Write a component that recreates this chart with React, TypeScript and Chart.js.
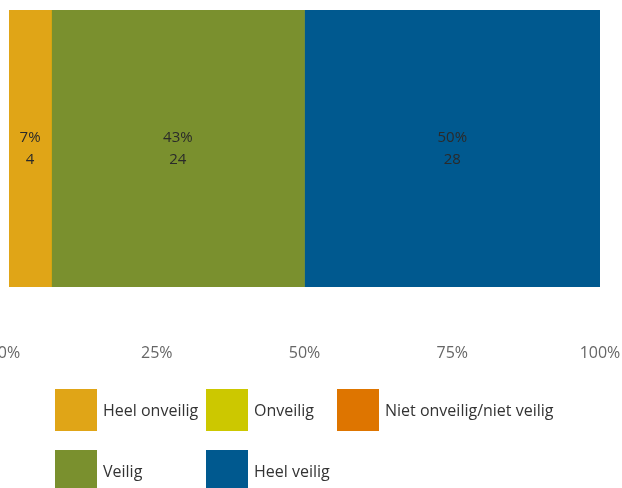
import React, { useEffect, useRef } from "react";
import { Chart, registerables } from "chart.js";

Chart.register(...registerables);

const categories = [""];
const seriesLabels = [
  "Heel onveilig",
  "Onveilig",
  "Niet onveilig/niet veilig",
  "Veilig",
  "Heel veilig",
];
const counts = [4, 0, 0, 24, 28];
const percentLabels = [7, 0, 0, 43, 50];
const seriesColors = ["#E0A517", "#CCC800", "#DE7500", "#7A902E", "#00598F"];
const xTickValues = [0, 25, 50, 75, 100];

const FONT = "'Open Sans', Lato, sans-serif";

const total = counts.reduce((a, b) => a + b, 0);
const percents = counts.map((c) => (c / total) * 100);

const valueLabelPlugin = {
  id: "valueLabels",
  afterDatasetsDraw(chart: any) {
    const ctx = chart.ctx;
    ctx.save();
    ctx.font = `15px ${FONT}`;
    ctx.fillStyle = "#2a2a2a";
    ctx.textAlign = "center";
    ctx.textBaseline = "middle";
    chart.data.datasets.forEach((ds: any, i: number) => {
      const meta = chart.getDatasetMeta(i);
      meta.data.forEach((el: any) => {
        const cnt = counts[i];
        if (!cnt) return;
        const cx = (el.x + el.base) / 2;
        const cy = el.y;
        ctx.fillText(`${percentLabels[i]}%`, cx, cy - 11);
        ctx.fillText(`${cnt}`, cx, cy + 11);
      });
    });
    ctx.restore();
  },
};

const gridLegendPlugin = {
  id: "gridLegend",
  afterDraw(chart: any) {
    const ctx = chart.ctx;
    const pos = [
      [55, 389],
      [206, 389],
      [337, 389],
      [55, 450],
      [206, 450],
    ];
    ctx.save();
    ctx.font = `16px ${FONT}`;
    ctx.textAlign = "left";
    ctx.textBaseline = "middle";
    chart.data.datasets.forEach((ds: any, i: number) => {
      const [x, y] = pos[i];
      ctx.fillStyle = ds.backgroundColor;
      ctx.fillRect(x, y, 42, 42);
      ctx.fillStyle = "#333333";
      ctx.fillText(ds.label, x + 48, y + 22);
    });
    ctx.restore();
  },
};

export default function App() {
  const ref = useRef<HTMLCanvasElement>(null);
  useEffect(() => {
    if (!ref.current) return;
    const chart = new Chart(ref.current, {
      type: "bar",
      data: {
        labels: categories,
        datasets: seriesLabels.map((label, i) => ({
          label,
          data: [percents[i]],
          backgroundColor: seriesColors[i],
          borderWidth: 0,
          barPercentage: 1,
          categoryPercentage: 1,
        })),
      },
      options: {
        indexAxis: "y",
        responsive: false,
        animation: false,
        layout: { padding: { left: 9, right: 22, top: 10, bottom: 0 } },
        plugins: {
          legend: { display: false },
          tooltip: { enabled: false },
        },
        scales: {
          x: {
            stacked: true,
            min: 0,
            max: 100,
            afterBuildTicks: (scale: any) => {
              scale.ticks = xTickValues.map((v) => ({ value: v }));
            },
            afterFit: (scale: any) => {
              scale.paddingLeft = 0;
              scale.paddingRight = 0;
              scale.height = 201;
            },
            grid: { display: false, drawTicks: false },
            border: { display: false },
            ticks: {
              padding: 57,
              color: "#666666",
              font: { family: FONT, size: 16 },
              callback: (v: any) => `${v}%`,
              maxRotation: 0,
            },
          },
          y: {
            stacked: true,
            display: false,
          },
        },
      },
      plugins: [valueLabelPlugin, gridLegendPlugin],
    });
    return () => chart.destroy();
  }, []);
  return (
    <div style={{ position: "fixed", left: 0, top: 0, width: 622, height: 488, background: "#fff" }}>
      <canvas ref={ref} width={622} height={488} style={{ display: "block" }} />
    </div>
  );
}
